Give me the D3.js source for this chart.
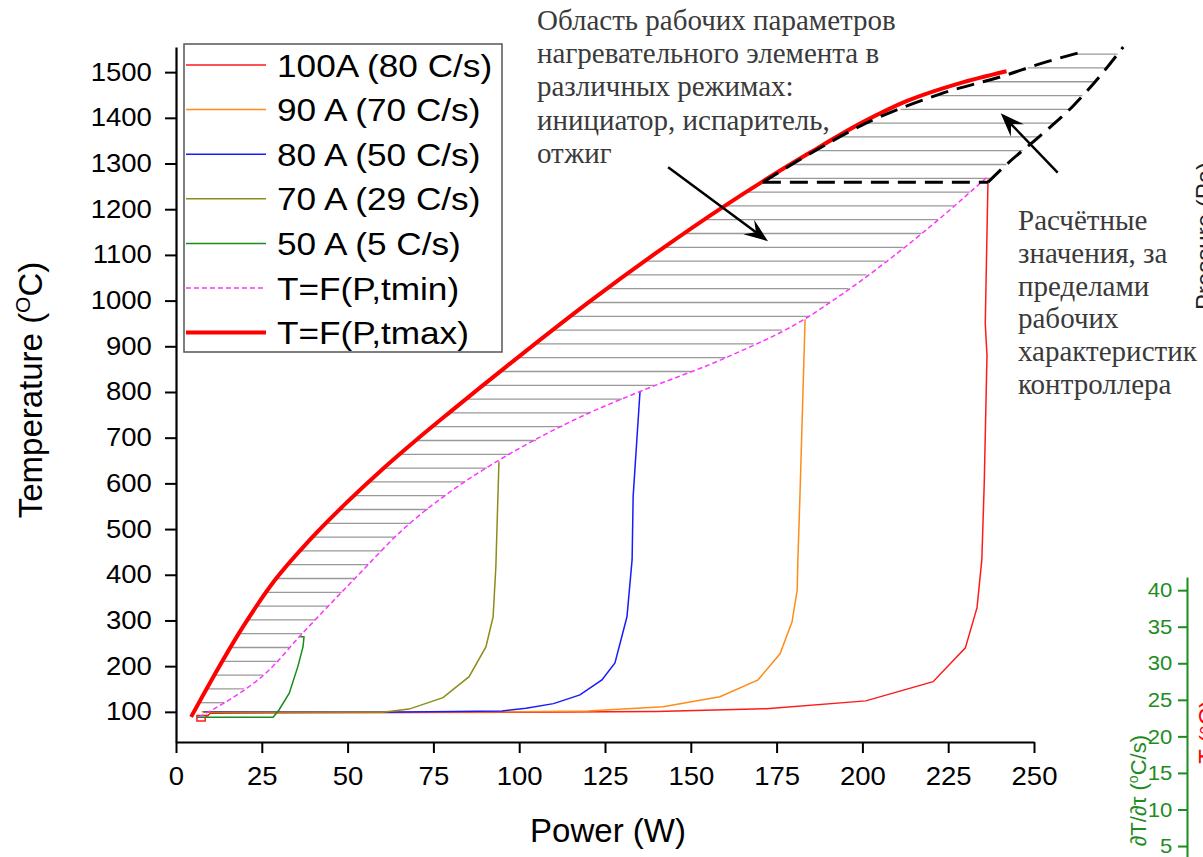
<!DOCTYPE html>
<html>
<head>
<meta charset="utf-8">
<script src="https://cdn.jsdelivr.net/npm/d3@7"></script>
<style>
  body { margin: 0; background: #fff; }
  svg { display: block; }
  .tick text { font-family: "Liberation Sans", Arial, sans-serif; }
  .note { font-family: "Liberation Serif", "DejaVu Serif", serif; fill: #3a3a3a; font-size: 29px; }
</style>
</head>
<body>
<div id="chart"></div>
<script>
const width = 1203
const height = 857

// Данные (P, Вт / T, °C)
const tmaxP = [4.4, 10, 19.5, 29, 38.7, 50, 60, 70, 80, 100, 120, 140, 160, 171, 185, 200, 213, 228, 242]
const tmaxT = [89, 165, 286, 390, 474, 560, 630, 695, 757, 878, 995, 1105, 1208, 1261, 1325, 1390, 1437, 1475, 1502]

const tminP = [6.7, 14.6, 26.2, 37, 52.4, 66.1, 80.7, 94.4, 118.6, 135.2, 160.5, 183.9, 190.6, 218.8, 236.6]
const tminT = [89, 122, 185, 273, 394, 499, 586, 652, 748, 801, 876, 963, 996, 1156, 1272]

const a100P = [9.6, 6.1, 6.1, 8.5, 8.5, 10, 40, 100, 140, 172, 201, 220.6, 230, 233.4, 234.8, 235.5, 236.3, 235.8, 236.6]
const a100T = [92, 92, 80, 80, 87, 97, 98, 99, 101, 107, 124, 166, 240, 328, 433, 600, 880, 950, 1265]

const a90P = [7.5, 60, 100, 120, 141.9, 158.5, 169.6, 176, 179.5, 181, 181.2, 181.8, 183.3]
const a90T = [100, 99.5, 100, 102, 111, 133, 170, 227, 297, 367, 433, 571, 959]

const a80P = [8, 60, 95, 102, 110, 117.7, 124.1, 127.9, 131.4, 132.9, 133.2, 135.2]
const a80T = [100, 99, 102, 108, 118, 137, 170, 207, 308, 433, 571, 801]

const a70P = [8, 60.3, 67.9, 77.8, 85.4, 90.3, 92.4, 93.2, 94.1]
const a70T = [99, 99, 106, 131, 177, 242, 308, 418, 648]

const a50P = [6.1, 28.3, 30, 33, 35.5, 37, 37.3, 36]
const a50T = [88, 88, 104, 141, 199, 242, 264, 265]

// расчётная область (пунктир)
const calcUpperP = [171, 183.9, 203, 222.6, 242.1, 251.7, 263.4]
const calcUpperT = [1259, 1318, 1395, 1452, 1494, 1518, 1543]
const calcRightP = [236.6, 242, 251.7, 261.4, 269.2, 276]
const calcRightT = [1259, 1298, 1360, 1426, 1491, 1555]
const calcLowerP = [171, 236.6]
const calcLowerT = [1259, 1259]

const series = [
  {name: "100A (80 C/s)", P: a100P, T: a100T, color: "#ff1a1a", w: 1.5},
  {name: "90 A (70 C/s)", P: a90P, T: a90T, color: "#ff8c1a", w: 1.5},
  {name: "80 A (50 C/s)", P: a80P, T: a80T, color: "#1a1aff", w: 1.5},
  {name: "70 A (29 C/s)", P: a70P, T: a70T, color: "#8c8c1a", w: 1.5},
  {name: "50 A (5 C/s)", P: a50P, T: a50T, color: "#1a8c1a", w: 1.5},
]

const xTicks = d3.range(0, 251, 25)
const yTicks = d3.range(100, 1501, 100)
const gTicks = [5, 10, 15, 20, 25, 30, 35, 40]

const svg = d3.select("div#chart")
    .append("svg")
    .attr("width", width)
    .attr("height", height)

// Шкалы
const x = d3.scaleLinear().domain([0, 250]).range([176, 1034])
const y = d3.scaleLinear().domain([34, 1555]).range([742, 47])

const line = d3.line().x(d => x(d[0])).y(d => y(d[1]))
const smooth = d3.line().x(d => x(d[0])).y(d => y(d[1])).curve(d3.curveMonotoneX)
const zip = (P, T) => P.map((p, i) => [p, T[i]])

// P по T вдоль монотонной кривой
function pAtT(P, T, t) {
  for (let i = 0; i < T.length - 1; i++) {
    if (t >= T[i] && t <= T[i + 1]) {
      const k = (t - T[i]) / (T[i + 1] - T[i])
      return P[i] + k * (P[i + 1] - P[i])
    }
  }
  return null
}

// штриховка области
const hatchGroup = svg.append("g").attr("id", "hatch")
d3.range(120, 1550, 30.2).forEach(t => {
  let p1, p2
  if (t <= 1259) {
    p1 = pAtT(tmaxP, tmaxT, t); p2 = pAtT(tminP, tminT, t)
  } else {
    p1 = pAtT(calcUpperP, calcUpperT, t); p2 = pAtT(calcRightP, calcRightT, t)
  }
  if (p1 == null || p2 == null) return
  hatchGroup.append("line")
    .attr("x1", x(p1)).attr("x2", x(p2))
    .attr("y1", y(t)).attr("y2", y(t))
    .attr("stroke", "#999").attr("stroke-width", 1.3)
})

// кривые
const elementGroup = svg.append("g").attr("id", "elementGroup")
elementGroup.selectAll("path.cur").data(series)
  .join("path")
  .attr("class", "cur")
  .attr("d", d => line(zip(d.P, d.T)))
  .attr("fill", "none")
  .attr("stroke", d => d.color)
  .attr("stroke-width", d => d.w)

elementGroup.append("path")
  .attr("d", smooth(zip(tminP, tminT)))
  .attr("fill", "none").attr("stroke", "#ff33ff")
  .attr("stroke-width", 1.5).attr("stroke-dasharray", "5,3")

elementGroup.append("path")
  .attr("d", smooth(zip(tmaxP, tmaxT)))
  .attr("fill", "none").attr("stroke", "#ff0000")
  .attr("stroke-width", 4)

// пунктир расчётной области
;[[calcUpperP, calcUpperT], [calcRightP, calcRightT], [calcLowerP, calcLowerT]].forEach(c => {
  elementGroup.append("path")
    .attr("d", smooth(zip(c[0], c[1])))
    .attr("fill", "none").attr("stroke", "#000")
    .attr("stroke-width", 3).attr("stroke-dasharray", "18,9")
})

// Оси
const axisGroup = svg.append("g").attr("id", "axisGroup")
const xAxisGroup = axisGroup.append("g").attr("transform", `translate(0, 742)`)
const yAxisGroup = axisGroup.append("g").attr("transform", `translate(176, 0)`)

xAxisGroup.call(d3.axisBottom(x).tickValues(d3.range(12.5, 250, 25)).tickSize(6).tickFormat(""))
xAxisGroup.call(d3.axisBottom(x).tickValues(xTicks).tickSize(11).tickPadding(14).tickSizeOuter(0).tickFormat(d3.format("d")))
yAxisGroup.call(d3.axisLeft(y).tickValues(d3.range(50, 1551, 100)).tickSize(6).tickFormat(""))
yAxisGroup.call(d3.axisLeft(y).tickValues(yTicks).tickSize(11).tickPadding(11).tickSizeOuter(0).tickFormat(d3.format("d")))

axisGroup.selectAll("path.domain").attr("stroke-width", 2.2)
axisGroup.selectAll(".tick line").attr("stroke-width", 2)
axisGroup.selectAll(".tick text").attr("font-size", 25).attr("fill", "#000")
  .attr("transform", "scale(1.1,1)")

// подписи осей
svg.append("text")
  .attr("x", 608).attr("y", 842)
  .attr("text-anchor", "middle")
  .attr("font-family", "Liberation Sans, Arial, sans-serif")
  .attr("font-size", 33)
  .text("Power (W)")

const yTitle = svg.append("text")
  .attr("transform", "translate(42, 390) rotate(-90)")
  .attr("text-anchor", "middle")
  .attr("font-family", "Liberation Sans, Arial, sans-serif")
  .attr("font-size", 33)
yTitle.append("tspan").text("Temperature (")
yTitle.append("tspan").attr("font-size", 21).attr("dy", -12).text("O")
yTitle.append("tspan").attr("dy", 12).text("C)")

// Легенда
const legend = svg.append("g").attr("id", "legend")
legend.append("rect")
  .attr("x", 184).attr("y", 44).attr("width", 318).attr("height", 308)
  .attr("fill", "#fff").attr("stroke", "#555").attr("stroke-width", 1.5)

const legendItems = series.map(d => ({name: d.name, color: d.color, w: d.w, dash: null}))
  .concat([
    {name: "T=F(P,tmin)", color: "#ff33ff", w: 1.5, dash: "5,3"},
    {name: "T=F(P,tmax)", color: "#ff0000", w: 4, dash: null},
  ])

legendItems.forEach((d, i) => {
  const cy = 65 + i * 44.6
  legend.append("line")
    .attr("x1", 186).attr("x2", 266).attr("y1", cy).attr("y2", cy)
    .attr("stroke", d.color).attr("stroke-width", d.w)
    .attr("stroke-dasharray", d.dash)
  legend.append("text")
    .attr("transform", `translate(277, ${cy + 11.5}) scale(1.1,1)`)
    .attr("font-family", "Liberation Sans, Arial, sans-serif")
    .attr("font-size", 32)
    .text(d.name)
})

// Аннотации
const note1 = ["Область рабочих параметров", "нагревательного элемента в",
  "различных режимах:", "инициатор, испаритель,", "отжиг"]
const note2 = ["Расчётные", "значения, за", "пределами", "рабочих",
  "характеристик", "контроллера"]

note1.forEach((s, i) => {
  svg.append("text").attr("class", "note")
    .attr("x", 537).attr("y", 30 + i * 33.2).text(s)
})
note2.forEach((s, i) => {
  svg.append("text").attr("class", "note")
    .attr("x", 1018).attr("y", 230 + i * 32.8).text(s)
})

function arrow(x1, y1, x2, y2) {
  const a = Math.atan2(y2 - y1, x2 - x1)
  const len = 24, hw = 9, notch = 15
  const bx = x2 - len * Math.cos(a), by = y2 - len * Math.sin(a)
  const nx = x2 - notch * Math.cos(a), ny = y2 - notch * Math.sin(a)
  const px = -Math.sin(a) * hw, py = Math.cos(a) * hw
  svg.append("line")
    .attr("x1", x1).attr("y1", y1).attr("x2", nx).attr("y2", ny)
    .attr("stroke", "#000").attr("stroke-width", 2.5)
  svg.append("path")
    .attr("d", `M${x2},${y2}L${bx + px},${by + py}L${nx},${ny}L${bx - px},${by - py}Z`)
    .attr("fill", "#000")
}
// стрелки в координатах графика
arrow(x(143.4), y(1292), x(172.5), y(1130))
arrow(x(256.9), y(1280), x(240.3), y(1410))

// обрезанная правая ось (dT/dτ)
const g = d3.scaleLinear().domain([3.5, 41.8]).range([857, 577])
const gAxis = svg.append("g").attr("transform", "translate(1187, 0)")
gAxis.call(d3.axisLeft(g).tickValues(d3.range(7.5, 40, 5)).tickSize(5).tickFormat("").tickSizeOuter(0))
gAxis.call(d3.axisLeft(g).tickValues(gTicks).tickSize(9).tickPadding(5).tickSizeOuter(0))
gAxis.selectAll("path, line").attr("stroke", "#1e8c1e").attr("stroke-width", 2)
gAxis.selectAll(".tick text").attr("fill", "#1e8c1e").attr("font-size", 21)
  .attr("transform", "scale(1.05,1)")

const gTitle = svg.append("text")
  .attr("transform", "translate(1146, 735) rotate(-90)")
  .attr("text-anchor", "end")
  .attr("font-family", "Liberation Sans, Arial, sans-serif")
  .attr("font-size", 22).attr("fill", "#1e8c1e")
gTitle.append("tspan").text("∂T/∂τ (")
gTitle.append("tspan").attr("font-size", 14).attr("dy", -8).text("o")
gTitle.append("tspan").attr("dy", 8).text("C/s)")

svg.append("text")
  .attr("transform", "translate(1216, 700) rotate(-90)")
  .attr("text-anchor", "end")
  .attr("font-family", "Liberation Sans, Arial, sans-serif")
  .attr("font-size", 24).attr("fill", "#ff0000")
  .text("T (°C)")

svg.append("text")
  .attr("transform", "translate(1213, 310) rotate(-90)")
  .attr("text-anchor", "start")
  .attr("font-family", "Liberation Sans, Arial, sans-serif")
  .attr("font-size", 24).attr("fill", "#222")
  .text("Pressure (Pa)")
</script>
</body>
</html>
